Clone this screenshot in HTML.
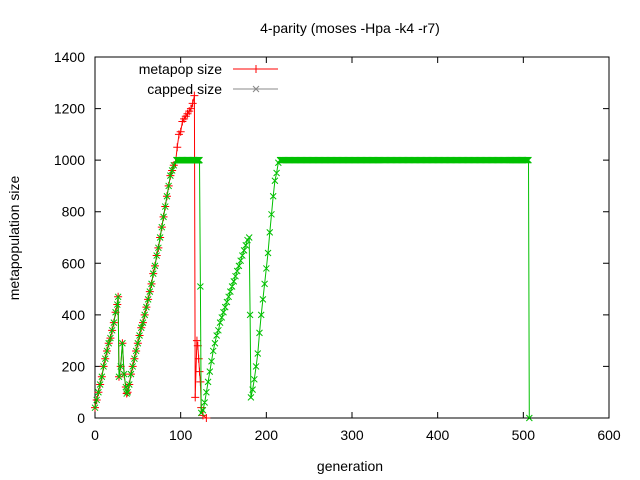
<!DOCTYPE html>
<html><head><meta charset="utf-8"><style>
body{margin:0;background:#fff}
svg{display:block;font-family:"Liberation Sans",sans-serif}
</style></head><body>
<svg id="c" width="640" height="480" viewBox="0 0 640 480">
<rect width="640" height="480" fill="#fff"/>
<text x="350" y="33" font-size="14" text-anchor="middle">4-parity (moses -Hpa -k4 -r7)</text>
<text x="350" y="471" font-size="14" text-anchor="middle">generation</text>
<text x="19" y="238" font-size="14" text-anchor="middle" transform="rotate(-90 19 238)">metapopulation size</text>
<g id="axes"></g>
<g id="series"></g>
<g>
<text x="222" y="74" font-size="14" text-anchor="end">metapop size</text>
<line x1="233" y1="69" x2="278" y2="69" stroke="#f00"/>
<path d="M252 69h8M256 65v8" stroke="#f00"/>
<text x="222" y="94" font-size="14" text-anchor="end">capped size</text>
<line x1="233" y1="89" x2="278" y2="89" stroke="#888"/>
<path d="M253 86l6 6M259 86l-6 6" stroke="#888"/>
</g>
</svg>
<script>
const xTicks=[0,100,200,300,400,500,600];
const yTicks=[0,200,400,600,800,1000,1200,1400];
const metaGen=[0,2,4,6,8,10,12,14,16,18,20,22,24,26,27,28,30,32,34,36,37,38,40,42,44,46,48,50,52,54,56,58,60,62,64,66,68,70,72,74,76,78,80,82,84,86,88,90,92,94,96,98,100,102,104,106,108,110,112,114,116,117,119,120,121,122,123,124,126,130];
const metaVal=[40,70,100,130,160,200,230,260,290,310,340,370,410,440,470,160,200,290,170,120,95,100,130,170,200,230,260,290,320,350,370,400,430,460,490,520,560,590,630,660,700,740,780,820,860,900,940,960,980,990,1050,1100,1110,1150,1160,1170,1180,1190,1200,1220,1250,80,300,280,230,180,140,40,10,0];
const capGen=[0,2,4,6,8,10,12,14,16,18,20,22,24,26,27,28,30,32,34,36,37,38,40,42,44,46,48,50,52,54,56,58,60,62,64,66,68,70,72,74,76,78,80,82,84,86,88,90,92,95,122,123,124,126,128,130,132,134,136,138,140,142,144,146,148,150,152,154,156,158,160,162,164,166,168,170,172,174,176,178,180,181,182,184,186,188,190,192,194,196,198,200,202,204,206,208,210,212,214,216,506,507];
const capVal=[40,70,100,130,160,200,230,260,290,310,340,370,410,440,470,160,200,290,170,120,95,100,130,170,200,230,260,290,320,350,370,400,430,460,490,520,560,590,630,660,700,740,780,820,860,900,940,960,980,1000,1000,510,20,30,60,100,140,180,220,260,290,320,340,370,390,410,430,450,470,490,510,530,550,570,590,610,630,650,670,690,700,400,80,110,150,200,250,330,400,460,520,580,640,720,790,860,920,950,990,1000,1000,0];
const X0=95,X1=609,Y0=418,Y1=57;
const sx=v=>X0+(v-0)/600*(X1-X0);
const sy=v=>Y0-(v-0)/1400*(Y0-Y1);
const NS="http://www.w3.org/2000/svg";
function mk(t,a,p){const e=document.createElementNS(NS,t);for(const k in a)e.setAttribute(k,a[k]);p.appendChild(e);return e;}
const ax=document.getElementById('axes');
const frame=mk('rect',{x:X0,y:Y1,width:X1-X0,height:Y0-Y1,fill:'none',stroke:'#000'},ax);


xTicks.forEach(t=>{
 const x=sx(t);
 const l=mk('path',{d:`M${x} ${Y0}v-6M${x} ${Y1}v6`,stroke:'#000'},ax);
 
 
 const tx=mk('text',{x:x,y:Y0+22,'font-size':14,'text-anchor':'middle'},ax);tx.textContent=t;
 
 
});
yTicks.forEach(t=>{
 const y=sy(t);
 const l=mk('path',{d:`M${X0} ${y}h6M${X1} ${y}h-6`,stroke:'#000'},ax);
 
 
 const tx=mk('text',{x:X0-10,y:y+5,'font-size':14,'text-anchor':'end'},ax);tx.textContent=t;
 
 
});
const sg=document.getElementById('series');
function series(gens,vals,color,name,marker){
 const g=mk('g',{},sg);
 
 
 let d='';
 gens.forEach((v,i)=>{d+=(i?'L':'M')+sx(v).toFixed(1)+' '+sy(vals[i]).toFixed(1);});
 const p=mk('path',{d:d,fill:'none',stroke:color},g);
 
 
 let m='';
 const pts=[];
 gens.forEach((v,i)=>{pts.push([v,vals[i]]);
  if(i<gens.length-1&&vals[i]===vals[i+1]){for(let k=v+1;k<gens[i+1];k++)pts.push([k,vals[i]]);}});
 pts.forEach(([v,w])=>{const x=sx(v),y=sy(w);
  m+=marker==='+'?`M${x-4} ${y}h8M${x} ${y-4}v8`:`M${x-3} ${y-3}l6 6M${x+3} ${y-3}l-6 6`;});
 const mp=mk('path',{d:m,fill:'none',stroke:color},g);
 
 
}
series(metaGen,metaVal,'#f00','metapop-series','+');
series(capGen,capVal,'#00c000','capped-series','x');
</script>
</body></html>
